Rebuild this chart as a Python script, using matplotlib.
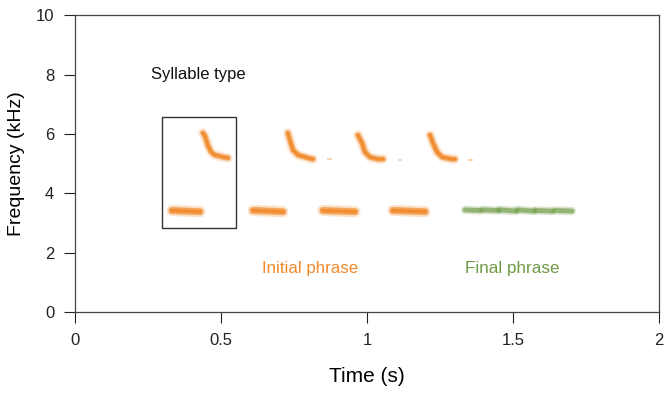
import matplotlib
matplotlib.use("Agg")
import matplotlib.pyplot as plt
import matplotlib.patches as patches

plt.rcParams['font.family'] = ['Liberation Sans', 'DejaVu Sans']

ORANGE = '#F08A2A'
GREEN = '#6F9A45'

# contour points (time s, frequency kHz)
high_t = [
    [0.438, 0.445, 0.455, 0.466, 0.479, 0.507, 0.524],
    [0.729, 0.736, 0.747, 0.764, 0.798, 0.815],
    [0.969, 0.983, 0.993, 1.010, 1.038, 1.055],
    [1.216, 1.226, 1.240, 1.257, 1.291, 1.301],
]
high_f = [
    [6.03, 5.93, 5.62, 5.39, 5.29, 5.22, 5.19],
    [6.03, 5.79, 5.45, 5.29, 5.19, 5.15],
    [5.96, 5.69, 5.39, 5.22, 5.15, 5.15],
    [5.96, 5.69, 5.39, 5.22, 5.15, 5.15],
]
# small trailing notes after high syllables
dash_t = [[0.868, 0.878], [1.108, 1.118], [1.350, 1.360]]
dash_f = [[5.15, 5.15], [5.12, 5.12], [5.12, 5.12]]

low_t = [[0.332, 0.428], [0.610, 0.712], [0.849, 0.959], [1.089, 1.199]]
low_f = [[3.42, 3.38], [3.42, 3.38], [3.42, 3.38], [3.42, 3.38]]

final_t = [[1.336, 1.387], [1.397, 1.449], [1.455, 1.510], [1.517, 1.572],
           [1.579, 1.634], [1.644, 1.702]]
final_f = [[3.44, 3.42], [3.44, 3.42], [3.44, 3.40], [3.44, 3.40],
           [3.42, 3.40], [3.42, 3.40]]

fig = plt.figure(figsize=(6.69, 3.98), dpi=100)
ax = fig.add_axes([0.1121, 0.216, 0.8729, 0.746])

for t, f in zip(high_t, high_f):
    ax.plot(t, f, color=ORANGE, lw=7, alpha=0.2, solid_capstyle='round')
    ax.plot(t, f, color=ORANGE, lw=4, alpha=0.7, solid_capstyle='round')
    ax.plot(t, f, color=ORANGE, lw=1.8, alpha=0.9)
for t, f in zip(dash_t, dash_f):
    ax.plot(t, f, color=ORANGE, lw=1.2, alpha=0.45)
for t, f in zip(low_t, low_f):
    ax.plot(t, f, color=ORANGE, lw=8, alpha=0.25, solid_capstyle='round')
    ax.plot(t, f, color=ORANGE, lw=5, alpha=0.7, solid_capstyle='round')
    ax.plot(t, f, color=ORANGE, lw=2.2, alpha=0.9)
for t, f in zip(final_t, final_f):
    ax.plot(t, f, color=GREEN, lw=6, alpha=0.25, solid_capstyle='round')
    ax.plot(t, f, color=GREEN, lw=3.5, alpha=0.65, solid_capstyle='round')

# syllable type box
ax.add_patch(patches.Rectangle((0.298, 2.83), 0.253, 3.74, fill=False,
                               edgecolor='#333333', lw=1.0))

ax.text(0.262, 8.0, "Syllable type", fontsize=12, ha='left', va='center',
        color='#111111')
ax.text(0.805, 1.48, "Initial phrase", fontsize=12.2, ha='center', va='center',
        color=ORANGE)
ax.text(1.497, 1.48, "Final phrase", fontsize=12.3, ha='center', va='center',
        color=GREEN)

ax.set_xlim(0, 2)
ax.set_ylim(0, 10)
ax.set_xticks([0, 0.5, 1, 1.5, 2])
ax.set_xticklabels(['0', '0.5', '1', '1.5', '2'])
ax.set_yticks([0, 2, 4, 6, 8, 10])
ax.tick_params(direction='out', length=8, width=0.8, labelsize=12,
               pad=7, colors='#222222')
for s in ax.spines.values():
    s.set_color('#444444')
    s.set_linewidth(0.9)
ax.set_xlabel("Time (s)", fontsize=15, labelpad=14)
ax.set_ylabel("Frequency (kHz)", fontsize=14, labelpad=8)

fig.savefig("out.png", dpi=100)
